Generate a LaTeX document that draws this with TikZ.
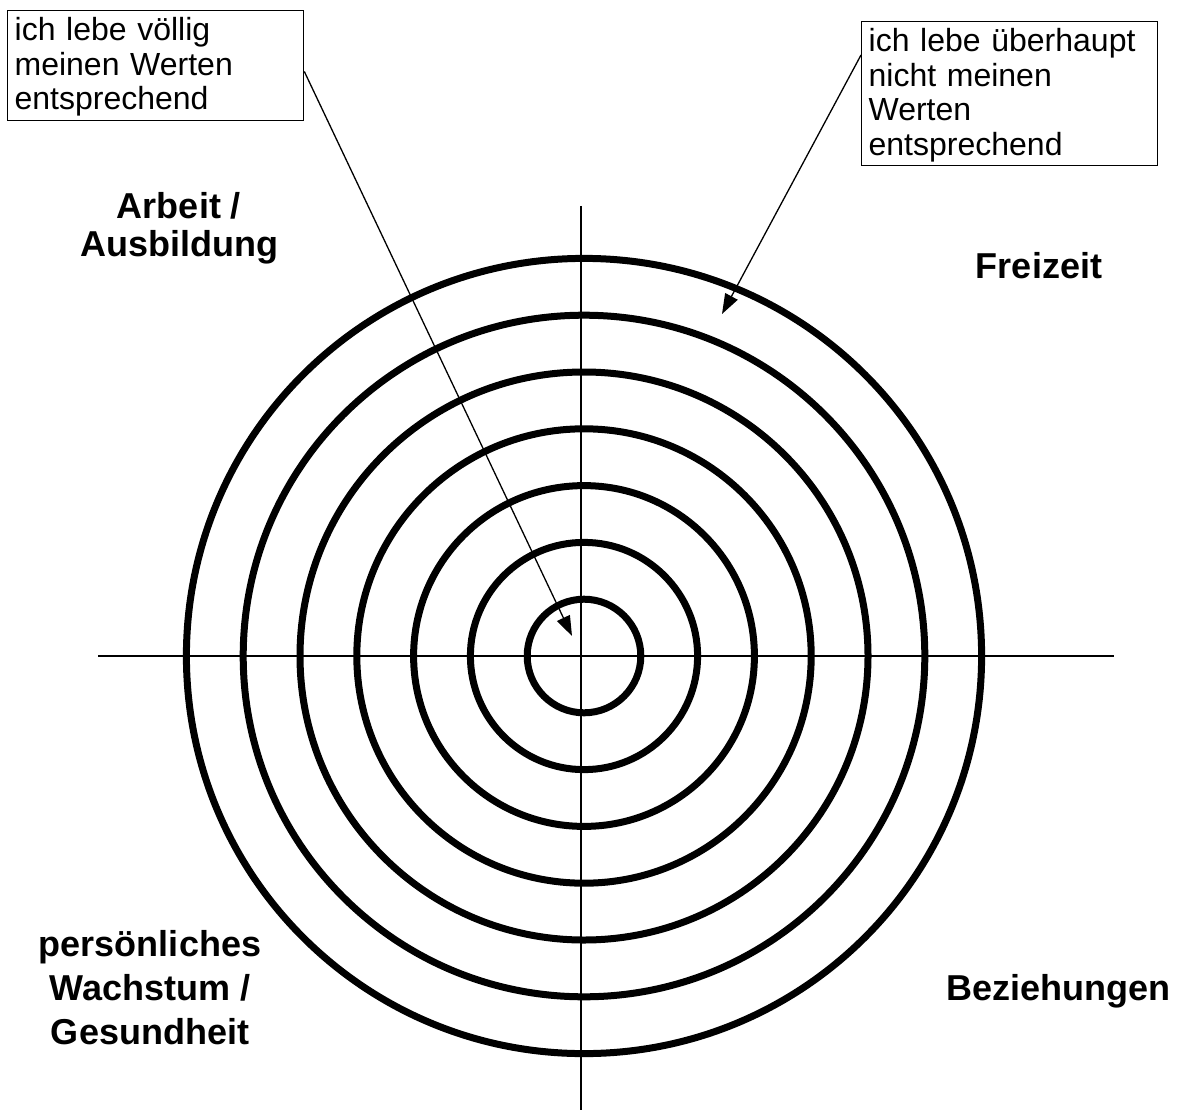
\documentclass[tikz,border=0pt]{standalone}
\usepackage{fontspec}
\setmainfont{Liberation Sans}
\usetikzlibrary{arrows.meta}

\begin{document}
\begin{tikzpicture}[x=0.5pt, y=-0.5pt,
    ring/.style={line width=3.5pt},
    axis/.style={line width=1pt},
    infobox/.style={draw, line width=0.65pt, anchor=north west, align=left,
        inner xsep=3.5pt, inner ysep=2pt, text width=141pt,
        font=\fontsize{16}{17.25}\selectfont},
    bereich/.style={align=center, font=\fontsize{18}{22}\selectfont\bfseries},
    pointer/.style={line width=0.65pt, -{Triangle[length=10pt,width=7pt]}}]
    \useasboundingbox (0,0) rectangle (1187,1118);

    % Zielscheibe
    \coordinate (mitte) at (584,656);
    \foreach \k in {1,...,7}
        \draw[ring] (mitte) circle (56.8*\k);
    \draw[axis] (98,656) -- (1114,656);
    \draw[axis] (581,206) -- (581,1110);

    % Lebensbereiche
    \node[bereich, font=\fontsize{18}{19}\selectfont\bfseries] (arbeit) at (179,228) {Arbeit /\\Ausbildung};
    \node[bereich] (freizeit) at (1039,266) {Freizeit};
    \node[bereich] (wachstum) at (150,988) {persönliches\\Wachstum /\\Gesundheit};
    \node[bereich] (beziehungen) at (1058,991) {Beziehungen};

    % Erklaerungen
    \node[infobox] (voellig) at (7,10) {\rule{0pt}{13pt}ich lebe völlig\\meinen Werten\\entsprechend};
    \node[infobox] (garnicht) at (861,21) {\rule{0pt}{13pt}ich lebe überhaupt\\nicht meinen\\Werten\\entsprechend};
    \coordinate (innen) at (572,636);
    \coordinate (aussen) at (722,314);
    \draw[pointer] ([yshift=-3pt]voellig.east) -- (innen);
    \draw[pointer] ([yshift=-17pt]garnicht.north west) -- (aussen);
\end{tikzpicture}
\end{document}
